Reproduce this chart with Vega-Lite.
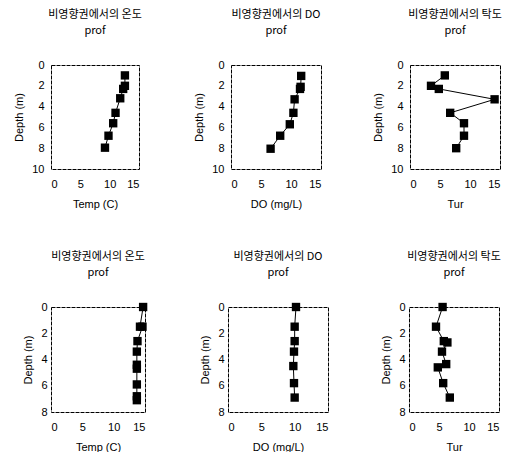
{
  "$schema": "https://vega.github.io/schema/vega-lite/v6.json",
  "padding": {"left": 13, "top": 8, "right": 5, "bottom": 0},
  "background": "white",
  "datasets": {
    "t1": [{"d": 1.0, "v": 12.6}, {"d": 2.0, "v": 12.6}, {"d": 2.3, "v": 12.3}, {"d": 3.2, "v": 11.8}, {"d": 4.6, "v": 11.0}, {"d": 5.6, "v": 10.6}, {"d": 6.8, "v": 9.8}, {"d": 7.95, "v": 9.2}],
    "o1": [{"d": 1.05, "v": 11.7}, {"d": 2.1, "v": 11.6}, {"d": 2.3, "v": 11.5}, {"d": 3.3, "v": 10.6}, {"d": 4.6, "v": 10.4}, {"d": 5.7, "v": 9.8}, {"d": 6.8, "v": 8.2}, {"d": 8.05, "v": 6.6}],
    "u1": [{"d": 1.0, "v": 5.8}, {"d": 2.0, "v": 3.5}, {"d": 2.3, "v": 4.8}, {"d": 3.3, "v": 14.1}, {"d": 4.6, "v": 6.7}, {"d": 5.6, "v": 9.0}, {"d": 6.8, "v": 9.0}, {"d": 8.0, "v": 7.7}],
    "t2": [{"d": 0.0, "v": 14.7}, {"d": 1.5, "v": 14.2}, {"d": 1.5, "v": 14.6}, {"d": 2.6, "v": 13.8}, {"d": 3.4, "v": 13.7}, {"d": 4.4, "v": 13.7}, {"d": 4.7, "v": 13.7}, {"d": 5.9, "v": 13.7}, {"d": 6.8, "v": 13.7}, {"d": 7.1, "v": 13.7}],
    "o2": [{"d": 0.0, "v": 10.2}, {"d": 1.5, "v": 10.0}, {"d": 2.6, "v": 10.0}, {"d": 3.4, "v": 9.9}, {"d": 4.5, "v": 9.8}, {"d": 5.8, "v": 9.9}, {"d": 6.9, "v": 10.0}],
    "u2": [{"d": 0.0, "v": 5.6}, {"d": 1.5, "v": 4.5}, {"d": 2.6, "v": 5.8}, {"d": 2.7, "v": 6.4}, {"d": 3.4, "v": 5.5}, {"d": 4.35, "v": 6.2}, {"d": 4.6, "v": 4.8}, {"d": 5.8, "v": 5.7}, {"d": 6.9, "v": 6.8}]
  },
  "config": {
    "font": "Liberation Sans",
    "view": {"stroke": "#000", "strokeWidth": 1, "strokeDash": [4, 1]},
    "axis": {"grid": false, "ticks": false, "domain": false, "labelFont": "Liberation Sans", "labelFontSize": 11, "labelColor": "#000", "titleFont": "Liberation Sans", "titleFontSize": 11, "titleFontWeight": "normal", "titleColor": "#000", "labelPadding": 7, "titlePadding": 7},
    "axisX": {"labelPadding": 9, "titlePadding": 9},
    "title": {"font": "Noto Sans CJK KR", "fontSize": 11, "fontWeight": "normal", "color": "#000", "offset": 23, "lineHeight": 16, "anchor": "middle"}
  },
  "spacing": 40,
  "vconcat": [
    {
      "spacing": 50,
      "hconcat": [
        {
          "title": {"text": ["비영향권에서의 온도", "prof"]},
          "width": 88, "height": 104,
          "data": {"name": "t1"},
          "encoding": {
            "x": {"field": "v", "type": "quantitative", "scale": {"domain": [0, 15]}, "axis": {"values": [0, 5, 10, 15], "title": "Temp (C)"}},
            "y": {"field": "d", "type": "quantitative", "scale": {"domain": [0, 10], "reverse": true}, "axis": {"values": [0, 2, 4, 6, 8, 10], "title": "Depth (m)"}},
            "order": {"field": "d", "type": "quantitative"}
          },
          "layer": [
            {"mark": {"type": "line", "color": "#000", "strokeWidth": 1}},
            {"mark": {"type": "square", "filled": true, "color": "#000", "size": 70, "opacity": 1}}
          ]
        },
        {
          "title": {"text": ["비영향권에서의 DO", "prof"]},
          "width": 90, "height": 104,
          "data": {"name": "o1"},
          "encoding": {
            "x": {"field": "v", "type": "quantitative", "scale": {"domain": [0, 15]}, "axis": {"values": [0, 5, 10, 15], "title": "DO (mg/L)"}},
            "y": {"field": "d", "type": "quantitative", "scale": {"domain": [0, 10], "reverse": true}, "axis": {"values": [0, 2, 4, 6, 8, 10], "title": "Depth (m)"}},
            "order": {"field": "d", "type": "quantitative"}
          },
          "layer": [
            {"mark": {"type": "line", "color": "#000", "strokeWidth": 1}},
            {"mark": {"type": "square", "filled": true, "color": "#000", "size": 70, "opacity": 1}}
          ]
        },
        {
          "title": {"text": ["비영향권에서의 탁도", "prof"]},
          "width": 90, "height": 104,
          "data": {"name": "u1"},
          "encoding": {
            "x": {"field": "v", "type": "quantitative", "scale": {"domain": [0, 15]}, "axis": {"values": [0, 5, 10, 15], "title": "Tur"}},
            "y": {"field": "d", "type": "quantitative", "scale": {"domain": [0, 10], "reverse": true}, "axis": {"values": [0, 2, 4, 6, 8, 10], "title": "Depth (m)"}},
            "order": {"field": "d", "type": "quantitative"}
          },
          "layer": [
            {"mark": {"type": "line", "color": "#000", "strokeWidth": 1}},
            {"mark": {"type": "square", "filled": true, "color": "#000", "size": 70, "opacity": 1}}
          ]
        }
      ]
    },
    {
      "spacing": 51,
      "hconcat": [
        {
          "title": {"text": ["비영향권에서의 온도", "prof"]},
          "width": 94, "height": 105,
          "data": {"name": "t2"},
          "encoding": {
            "x": {"field": "v", "type": "quantitative", "scale": {"domain": [0, 15]}, "axis": {"values": [0, 5, 10, 15], "title": "Temp (C)"}},
            "y": {"field": "d", "type": "quantitative", "scale": {"domain": [0, 8], "reverse": true}, "axis": {"values": [0, 2, 4, 6, 8], "title": "Depth (m)", "labelPadding": 4}},
            "order": {"field": "d", "type": "quantitative"}
          },
          "layer": [
            {"mark": {"type": "line", "color": "#000", "strokeWidth": 1}},
            {"mark": {"type": "square", "filled": true, "color": "#000", "size": 70, "opacity": 1}}
          ]
        },
        {
          "title": {"text": ["비영향권에서의 DO", "prof"]},
          "width": 100, "height": 105,
          "data": {"name": "o2"},
          "encoding": {
            "x": {"field": "v", "type": "quantitative", "scale": {"domain": [0, 15]}, "axis": {"values": [0, 5, 10, 15], "title": "DO (mg/L)"}},
            "y": {"field": "d", "type": "quantitative", "scale": {"domain": [0, 8], "reverse": true}, "axis": {"values": [0, 2, 4, 6, 8], "title": "Depth (m)", "labelPadding": 4}},
            "order": {"field": "d", "type": "quantitative"}
          },
          "layer": [
            {"mark": {"type": "line", "color": "#000", "strokeWidth": 1}},
            {"mark": {"type": "square", "filled": true, "color": "#000", "size": 70, "opacity": 1}}
          ]
        },
        {
          "title": {"text": ["비영향권에서의 탁도", "prof"]},
          "width": 90, "height": 105,
          "data": {"name": "u2"},
          "encoding": {
            "x": {"field": "v", "type": "quantitative", "scale": {"domain": [0, 15]}, "axis": {"values": [0, 5, 10, 15], "title": "Tur"}},
            "y": {"field": "d", "type": "quantitative", "scale": {"domain": [0, 8], "reverse": true}, "axis": {"values": [0, 2, 4, 6, 8], "title": "Depth (m)", "labelPadding": 4}},
            "order": {"field": "d", "type": "quantitative"}
          },
          "layer": [
            {"mark": {"type": "line", "color": "#000", "strokeWidth": 1}},
            {"mark": {"type": "square", "filled": true, "color": "#000", "size": 70, "opacity": 1}}
          ]
        }
      ]
    }
  ]
}
